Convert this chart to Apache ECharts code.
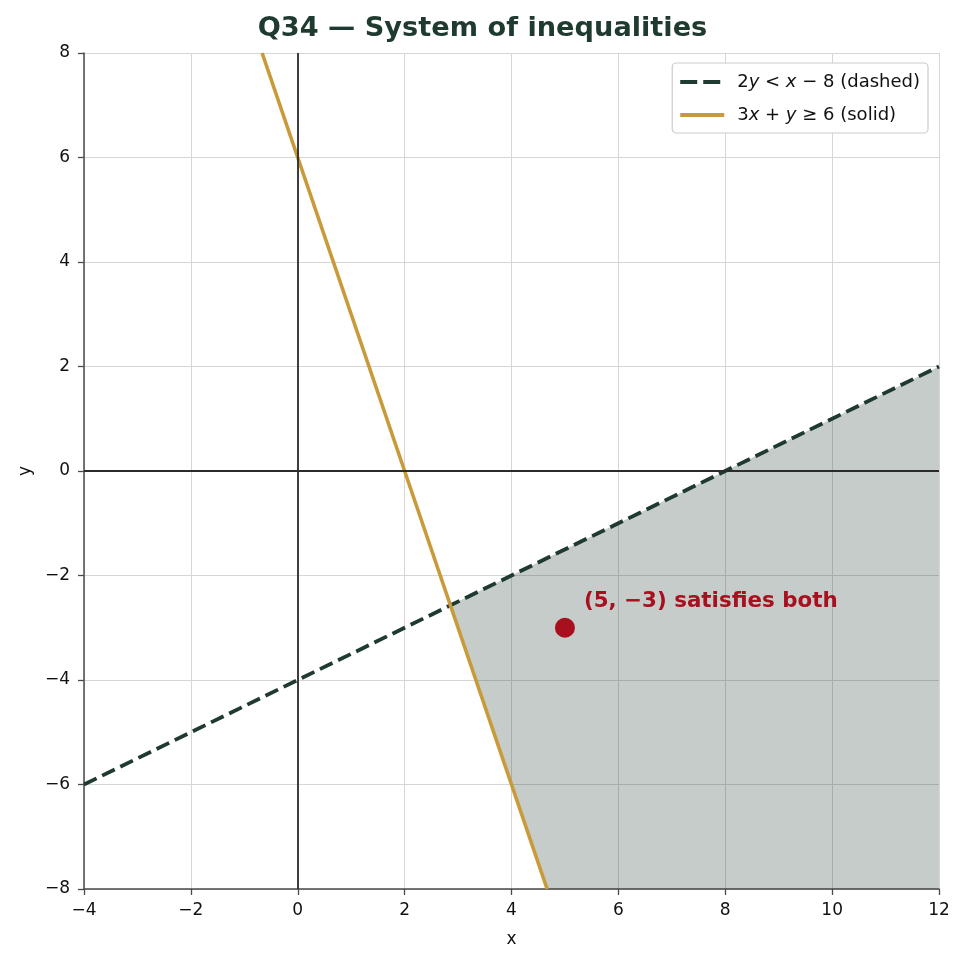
<!DOCTYPE html>
<html><head><meta charset="utf-8">
<script src="https://cdn.jsdelivr.net/npm/echarts@6/dist/echarts.min.js"></script>
<style>html,body{margin:0;padding:0;background:#fff}#c{width:965px;height:963px}</style>
</head><body><div id="c"></div>
<script>
// Boundary line 2y = x - 8 (dashed), endpoints within view
const dashedX = [-4, 12];
const dashedY = [-6, 2];
// Boundary line 3x + y = 6 (solid)
const solidX = [-0.6667, 4.6667];
const solidY = [8, -8];
// Feasible region vertices
const regionX = [2.857, 12, 12, 4.6667];
const regionY = [-2.571, 2, -8, -8];
// Test point
const pointX = [5];
const pointY = [-3];
const pointLabel = '(5, −3) satisfies both';
const xTicks = { min: -4, max: 12, interval: 2 };
const yTicks = { min: -8, max: 8, interval: 2 };

const FONT = '"DejaVu Sans", sans-serif';
const DARK = '#1f3a2e';
const GOLD = '#c99a3a';
const RED = '#a8101f';
const fmt = v => String(v).replace('-', '−');

const chart = echarts.init(document.getElementById('c'));
chart.setOption({
  animation: false,
  textStyle: { fontFamily: FONT },
  title: {
    text: 'Q34 — System of inequalities', left: 'center', top: 10,
    textStyle: { fontFamily: FONT, fontSize: 27.2, fontWeight: 'bold', color: DARK }
  },
  grid: { left: 84, right: 26, top: 53, bottom: 74 },
  legend: {
    right: 37, top: 63, orient: 'vertical',
    data: [
      { name: 'dashed', itemStyle: { opacity: 0 }, lineStyle: { type: [17, 6], width: 4 } },
      { name: 'solid', itemStyle: { opacity: 0 }, lineStyle: { width: 4 } }
    ],
    backgroundColor: '#fff', borderColor: '#cccccc', borderWidth: 1.2, borderRadius: 4,
    padding: [10, 8, 9, 6], itemGap: 15, itemWidth: 44, itemHeight: 14,
    formatter: n => n === 'dashed'
      ? '2{i|y} < {i|x} − 8 (dashed)'
      : '3{i|x} + {i|y} ≥ 6 (solid)',
    textStyle: {
      fontFamily: FONT, fontSize: 18, color: '#111', padding: [0, 0, 0, 8],
      rich: { i: { fontFamily: FONT, fontSize: 18, fontStyle: 'italic', color: '#111' } }
    }
  },
  xAxis: {
    type: 'value', min: xTicks.min, max: xTicks.max, interval: xTicks.interval,
    name: 'x', nameLocation: 'middle', nameGap: 42,
    nameTextStyle: { fontFamily: FONT, fontSize: 17, color: '#111' },
    axisLine: { onZero: false, lineStyle: { color: '#4a4a4a', width: 1.5 } },
    axisTick: { show: true, length: 6, lineStyle: { color: '#4a4a4a', width: 1.3 } },
    axisLabel: { formatter: fmt, fontFamily: FONT, fontSize: 17, color: '#111', margin: 13 },
    splitLine: { show: true, lineStyle: { color: '#d6d6d6', width: 1 } }
  },
  yAxis: {
    type: 'value', min: yTicks.min, max: yTicks.max, interval: yTicks.interval,
    name: 'y', nameLocation: 'middle', nameGap: 50,
    nameTextStyle: { fontFamily: FONT, fontSize: 17, color: '#111' },
    axisLine: { show: true, onZero: false, lineStyle: { color: '#4a4a4a', width: 1.5 } },
    axisTick: { show: true, length: 6, lineStyle: { color: '#4a4a4a', width: 1.3 } },
    axisLabel: { formatter: fmt, fontFamily: FONT, fontSize: 17, color: '#111', margin: 14 },
    splitLine: { show: true, lineStyle: { color: '#d6d6d6', width: 1 } }
  },
  series: [
    {
      type: 'custom', name: 'region', silent: true, z: 1,
      data: [0],
      renderItem: (params, api) => {
        const pts = regionX.map((x, i) => api.coord([x, regionY[i]]));
        return { type: 'polygon', shape: { points: pts },
          style: { fill: 'rgba(31,58,46,0.26)', stroke: 'none' } };
      }
    },
    {
      type: 'line', name: 'axes0', silent: true, z: 2, data: [],
      markLine: {
        silent: true, symbol: 'none', label: { show: false },
        lineStyle: { color: '#2b2b2b', type: 'solid', width: 1.8 },
        data: [{ xAxis: 0 }, { yAxis: 0 }]
      }
    },
    {
      type: 'line', name: 'dashed', z: 3, showSymbol: false, symbol: 'none',
      data: dashedX.map((x, i) => [x, dashedY[i]]),
      lineStyle: { color: DARK, width: 3.8, type: [14, 6.2], cap: 'butt' },
      itemStyle: { color: DARK }
    },
    {
      type: 'line', name: 'solid', z: 3, showSymbol: false, symbol: 'none',
      data: solidX.map((x, i) => [x, solidY[i]]),
      lineStyle: { color: GOLD, width: 3.6 },
      itemStyle: { color: GOLD }
    },
    {
      type: 'scatter', name: 'point', z: 5, symbolSize: 20,
      data: pointX.map((x, i) => [x, pointY[i]]),
      itemStyle: { color: RED, opacity: 1 },
      label: {
        show: true, position: 'right', offset: [4, -26],
        formatter: pointLabel, color: RED,
        fontFamily: FONT, fontSize: 21.4, fontWeight: 'bold'
      }
    }
  ]
});
</script></body></html>
